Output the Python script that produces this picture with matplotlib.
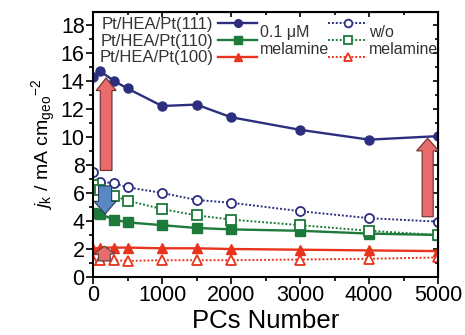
import numpy as np
import matplotlib.pyplot as plt
from matplotlib.ticker import MultipleLocator

plt.rcParams['font.family'] = ['Liberation Sans', 'DejaVu Sans']
plt.rcParams['mathtext.fontset'] = 'custom'
plt.rcParams['mathtext.rm'] = 'Liberation Sans'
plt.rcParams['mathtext.it'] = 'Liberation Sans:italic'

# ciclos de potencial
pcs = [0, 100, 300, 500, 1000, 1500, 2000, 3000, 4000, 5000]

# con 0.1 uM melamina
jk_111 = [14.3, 14.7, 14.0, 13.45, 12.2, 12.3, 11.4, 10.5, 9.8, 10.05]
jk_110 = [4.6, 4.5, 4.1, 3.9, 3.7, 3.5, 3.4, 3.3, 3.1, 3.0]
jk_100 = [2.0, 2.1, 2.1, 2.1, 2.05, 2.05, 2.0, 1.95, 1.9, 1.85]

# sin melamina
jk_111_wo = [7.5, 6.8, 6.7, 6.4, 6.0, 5.5, 5.3, 4.7, 4.2, 3.95]
jk_110_wo = [6.6, 6.2, 5.8, 5.45, 4.85, 4.4, 4.1, 3.7, 3.3, 3.0]
jk_100_wo = [1.2, 1.2, 1.2, 1.15, 1.2, 1.2, 1.2, 1.25, 1.3, 1.4]

nombres = ['Pt/HEA/Pt(111)', 'Pt/HEA/Pt(110)', 'Pt/HEA/Pt(100)']
colores = ['#2b2f7e', '#1d7a3a', '#e8341c']
marcadores = ['o', 's', '^']

fig = plt.figure(figsize=(4.65, 3.35), dpi=100)
ax = fig.add_axes([0.2, 0.173, 0.742, 0.791])

solidas = []
punteadas = []
for datos, c, m in zip([jk_111, jk_110, jk_100], colores, marcadores):
    l, = ax.plot(pcs, datos, color=c, marker=m, ms=6.5, lw=1.7, mec=c, mfc=c)
    solidas.append(l)
for datos, c, m in zip([jk_111_wo, jk_110_wo, jk_100_wo], colores, marcadores):
    l, = ax.plot(pcs, datos, color=c, marker=m, ms=6.5, lw=1.4, ls=(0, (1, 1)),
                 mec=c, mfc='white', mew=1.3)
    punteadas.append(l)

# flechas
rojo = '#e86c6c'
ax.arrow(190, 7.6, 0, 6.6, width=170, head_width=290, head_length=0.9,
         length_includes_head=True, fc=rojo, ec='#6a2a2a', lw=0.8, zorder=5)
ax.arrow(4850, 4.3, 0, 5.6, width=160, head_width=320, head_length=0.9,
         length_includes_head=True, fc=rojo, ec='#6a2a2a', lw=0.8, zorder=5)
ax.arrow(175, 6.5, 0, -2.0, width=190, head_width=320, head_length=0.9,
         length_includes_head=True, fc='#5a88c4', ec='#2a3a5a', lw=0.8, zorder=5)
ax.arrow(165, 1.15, 0, 1.05, width=170, head_width=300, head_length=0.55,
         length_includes_head=True, fc=rojo, ec='#5a4040', lw=0.8, zorder=5)

ax.set_xlim(0, 5000)
ax.set_ylim(0, 18.9)
ax.xaxis.set_major_locator(MultipleLocator(1000))
ax.xaxis.set_minor_locator(MultipleLocator(500))
ax.yaxis.set_major_locator(MultipleLocator(2))
ax.yaxis.set_minor_locator(MultipleLocator(1))
ax.tick_params(which='both', direction='out', labelsize=15.5, width=1.2, pad=1)
ax.tick_params(which='major', length=5)
ax.tick_params(which='minor', length=3)
for s in ax.spines.values():
    s.set_linewidth(1.5)

arriba = ax.secondary_xaxis('top')
arriba.xaxis.set_major_locator(MultipleLocator(1000))
arriba.xaxis.set_minor_locator(MultipleLocator(500))
arriba.tick_params(which='both', direction='in', labeltop=False, width=1.2)
derecha = ax.secondary_yaxis('right')
derecha.yaxis.set_major_locator(MultipleLocator(2))
derecha.yaxis.set_minor_locator(MultipleLocator(1))
derecha.tick_params(which='both', direction='in', labelright=False, width=1.2)

ax.set_xlabel('PCs Number', fontsize=18.5, labelpad=2)
ax.set_ylabel(r'$j_{\mathrm{k}}$ / mA cm$_{\mathrm{geo}}$$^{-2}$', fontsize=14, labelpad=2)

ax.legend(solidas + punteadas, nombres + [''] * 3, ncol=2, markerfirst=False,
          loc='upper left', bbox_to_anchor=(-0.015, 1.025), frameon=False,
          fontsize=12, handlelength=2.3, handletextpad=0.3, columnspacing=4.0,
          labelspacing=0.1, borderpad=0.2, labelcolor='#333333',
          markerscale=0.85)
ax.text(0.485, 0.95, '0.1 \u03bcM\nmelamine', transform=ax.transAxes,
        fontsize=11.5, va='top', ha='left', linespacing=1.1, color='#333333')
ax.text(0.80, 0.95, 'w/o\nmelamine', transform=ax.transAxes,
        fontsize=11.5, va='top', ha='left', linespacing=1.1, color='#333333')

plt.savefig('out.png', dpi=100)
